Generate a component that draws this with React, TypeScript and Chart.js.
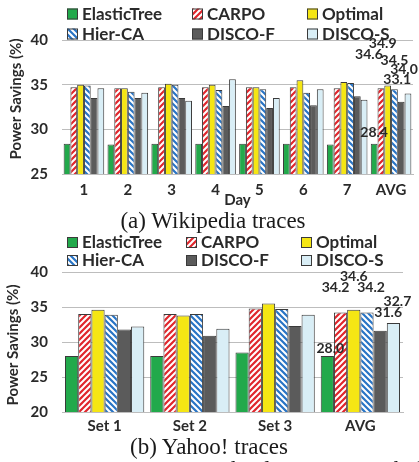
import React, { useEffect, useRef } from "react";
import { Chart, registerables } from "chart.js";

Chart.register(...registerables);

// ---------- data ----------
const seriesNames = ["ElasticTree", "CARPO", "Optimal", "Hier-CA", "DISCO-F", "DISCO-S"];

const wikiCategories = ["1", "2", "3", "4", "5", "6", "7", "AVG"];
const wikiElasticTree = [28.4, 28.3, 28.4, 28.4, 28.4, 28.4, 28.3, 28.4];
const wikiCarpo = [34.7, 34.6, 34.7, 34.7, 34.7, 34.7, 34.6, 34.6];
const wikiOptimal = [35.0, 34.6, 35.1, 35.0, 34.7, 35.5, 35.3, 34.9];
const wikiHierCA = [34.9, 34.2, 35.0, 34.4, 34.5, 34.1, 35.2, 34.5];
const wikiDiscoF = [33.5, 33.5, 33.5, 32.6, 32.4, 32.7, 33.7, 33.1];
const wikiDiscoS = [34.6, 34.1, 33.2, 35.6, 33.5, 34.5, 33.3, 34.0];
const wikiTicks = [25, 30, 35, 40];

const yahooCategories = ["Set 1", "Set 2", "Set 3", "AVG"];
const yahooElasticTree = [28.0, 28.0, 28.5, 28.0];
const yahooCarpo = [34.0, 34.0, 34.8, 34.2];
const yahooOptimal = [34.6, 33.8, 35.5, 34.6];
const yahooHierCA = [33.9, 34.0, 34.7, 34.2];
const yahooDiscoF = [31.8, 30.9, 32.3, 31.6];
const yahooDiscoS = [32.2, 31.9, 33.9, 32.7];
const yahooTicks = [20, 25, 30, 35, 40];

// ---------- styles ----------
const FONT = "Lato, 'Open Sans', sans-serif";
const TEXT = "#2a2a2a";
const EDGE = "#3a3a3a";
const GRID = "#bdbdbd";

function hatch(ctx: CanvasRenderingContext2D, base: string, dir: number): CanvasPattern | string {
  const s = 6;
  const c = document.createElement("canvas");
  c.width = s;
  c.height = s;
  const g = c.getContext("2d");
  if (!g) return base;
  g.fillStyle = base;
  g.fillRect(0, 0, s, s);
  g.strokeStyle = "#ffffff";
  g.lineWidth = 2;
  g.beginPath();
  if (dir > 0) {
    g.moveTo(-1, s + 1); g.lineTo(s + 1, -1);
    g.moveTo(-1, 1); g.lineTo(1, -1);
    g.moveTo(s - 1, s + 1); g.lineTo(s + 1, s - 1);
  } else {
    g.moveTo(-1, -1); g.lineTo(s + 1, s + 1);
    g.moveTo(s - 1, -1); g.lineTo(s + 1, 1);
    g.moveTo(-1, s - 1); g.lineTo(1, s + 1);
  }
  g.stroke();
  return ctx.createPattern(c, "repeat") || base;
}

function fills(ctx: CanvasRenderingContext2D) {
  return [
    "#22a94b",
    hatch(ctx, "#e0262c", 1),
    "#f5e614",
    hatch(ctx, "#2874c5", -1),
    "#5b5b5b",
    "#d9eef6",
  ];
}

const overlayPlugin = {
  id: "overlay",
  afterDatasetsDraw(chart: any, _args: any, o: any) {
    const ctx: CanvasRenderingContext2D = chart.ctx;
    const ca = chart.chartArea;
    ctx.save();
    // value labels on the AVG group
    const last = chart.data.labels.length - 1;
    ctx.font = `bold 14px ${FONT}`;
    ctx.fillStyle = TEXT;
    ctx.textAlign = "center";
    ctx.textBaseline = "middle";
    chart.data.datasets.forEach((ds: any, i: number) => {
      const el = chart.getDatasetMeta(i).data[last];
      const off = o.labelOffsets[i];
      ctx.fillText(Number(ds.data[last]).toFixed(1), el.x + off[0], el.y + off[1]);
    });
    // legend grid
    ctx.font = `bold 17px ${FONT}`;
    ctx.textAlign = "left";
    chart.data.datasets.forEach((ds: any, i: number) => {
      const col = i % 3;
      const row = Math.floor(i / 3);
      const x = o.legendCols[col];
      const y = o.legendRows[row];
      ctx.fillStyle = ds.backgroundColor;
      ctx.fillRect(x, y - 5.5, 11, 11);
      ctx.strokeStyle = EDGE;
      ctx.lineWidth = 1;
      ctx.strokeRect(x + 0.5, y - 5, 10, 10);
      ctx.fillStyle = TEXT;
      ctx.fillText(ds.label, x + 15, y + 0.5);
    });
    // y-axis title
    ctx.font = `bold 15px ${FONT}`;
    ctx.textAlign = "center";
    ctx.translate(o.yTitleX, (ca.top + ca.bottom) / 2 + o.yTitleShift);
    ctx.rotate(-Math.PI / 2);
    ctx.fillStyle = TEXT;
    ctx.fillText("Power Savings (%)", 0, 0);
    ctx.restore();
  },
};

type PanelProps = {
  categories: string[];
  series: number[][];
  ticks: number[];
  height: number;
  axisHeight: number;
  tickPad: number;
  padTop: number;
  padRight: number;
  catPct: number;
  xTitle: string;
  labelOffsets: number[][];
  legendCols: number[];
  legendRows: number[];
  yTitleX: number;
  yTitleShift: number;
};

function Panel(p: PanelProps) {
  const ref = useRef<HTMLCanvasElement | null>(null);
  useEffect(() => {
    const canvas = ref.current;
    if (!canvas) return;
    const ctx = canvas.getContext("2d");
    if (!ctx) return;
    const f = fills(ctx);
    const chart = new Chart(canvas, {
      type: "bar",
      data: {
        labels: p.categories,
        datasets: p.series.map((vals, i) => ({
          label: seriesNames[i],
          data: vals,
          backgroundColor: f[i] as any,
          borderColor: EDGE,
          borderWidth: 1,
          barPercentage: 1,
          categoryPercentage: p.catPct,
        })),
      },
      options: {
        animation: false,
        responsive: false,
        devicePixelRatio: window.devicePixelRatio || 1,
        layout: { padding: { left: 0, right: p.padRight, top: p.padTop, bottom: 0 } },
        plugins: {
          legend: { display: false },
          tooltip: { enabled: false },
          overlay: {
            labelOffsets: p.labelOffsets,
            legendCols: p.legendCols,
            legendRows: p.legendRows,
            yTitleX: p.yTitleX,
            yTitleShift: p.yTitleShift,
          },
        } as any,
        scales: {
          x: {
            grid: { display: false, drawTicks: false },
            border: { display: true, color: GRID },
            ticks: {
              font: { family: FONT, size: 15, weight: "bold" },
              color: TEXT,
              padding: p.tickPad,
              maxRotation: 0,
            },
            title: {
              display: p.xTitle !== "",
              text: p.xTitle,
              font: { family: FONT, size: 15, weight: "bold" },
              color: TEXT,
              padding: { top: 0, bottom: 1 },
            },
            afterFit: (s: any) => {
              s.height = p.axisHeight;
            },
          },
          y: {
            min: p.ticks[0],
            max: p.ticks[p.ticks.length - 1],
            grid: { color: GRID, drawTicks: false },
            border: { display: false },
            ticks: {
              stepSize: p.ticks[1] - p.ticks[0],
              font: { family: FONT, size: 15, weight: "bold" },
              color: TEXT,
              padding: 14,
            },
            afterFit: (s: any) => {
              s.width = 62;
            },
          },
        },
      },
      plugins: [overlayPlugin as any],
    });
    return () => chart.destroy();
  }, []);
  return (
    <canvas
      ref={ref}
      width={419}
      height={p.height}
      style={{ width: 419, height: p.height, display: "block" }}
    />
  );
}

const captionStyle: React.CSSProperties = {
  position: "absolute",
  fontFamily: "'Liberation Serif', 'DejaVu Serif', serif",
  fontSize: 23,
  lineHeight: "23px",
  color: "#1a1a1a",
  whiteSpace: "nowrap",
  transform: "translateX(-50%)",
};

export default function App() {
  return (
    <div
      style={{
        position: "absolute",
        left: 0,
        top: 0,
        width: 419,
        height: 462,
        overflow: "hidden",
        background: "#ffffff",
      }}
    >
      <div style={{ position: "absolute", left: 0, top: 0 }}>
        <Panel
          categories={wikiCategories}
          series={[wikiElasticTree, wikiCarpo, wikiOptimal, wikiHierCA, wikiDiscoF, wikiDiscoS]}
          ticks={wikiTicks}
          height={210}
          axisHeight={36}
          tickPad={7}
          padTop={40}
          padRight={6}
          catPct={0.925}
          xTitle="Day"
          labelOffsets={[[0, -11.6], [-12, -34], [-5, -42], [0, -29], [-4, -22], [-4, -24]]}
          legendCols={[67, 192, 307]}
          legendRows={[14, 34]}
          yTitleX={16}
          yTitleShift={-8}
        />
      </div>
      <div style={{ ...captionStyle, left: 213, top: 209 }}>(a) Wikipedia traces</div>
      <div style={{ position: "absolute", left: 0, top: 230 }}>
        <Panel
          categories={yahooCategories}
          series={[yahooElasticTree, yahooCarpo, yahooOptimal, yahooHierCA, yahooDiscoF, yahooDiscoS]}
          ticks={yahooTicks}
          height={210}
          axisHeight={28}
          tickPad={5}
          padTop={42}
          padRight={16}
          catPct={0.93}
          xTitle=""
          labelOffsets={[[3, -8], [-5, -25], [0, -33], [4, -25], [8, -18], [4, -22]]}
          legendCols={[67, 186, 301]}
          legendRows={[12.5, 30.5]}
          yTitleX={13}
          yTitleShift={3}
        />
      </div>
      <div style={{ ...captionStyle, left: 209, top: 435 }}>(b) Yahoo! traces</div>
      <div style={{ ...captionStyle, left: 28, top: 458, transform: "none" }}>
        11. Power savings in the data center with the real traces
      </div>
    </div>
  );
}
